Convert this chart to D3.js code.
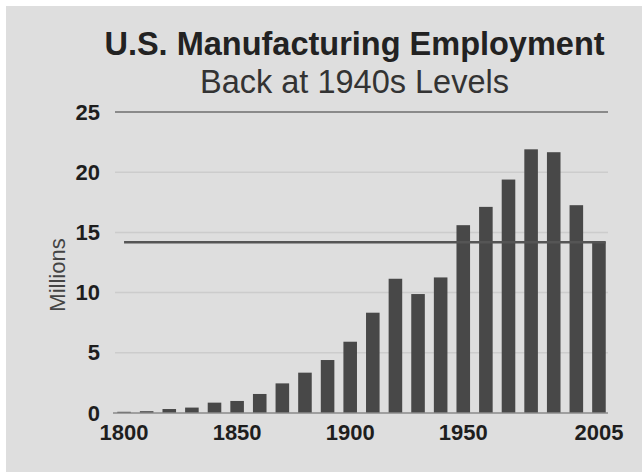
<!DOCTYPE html>
<html>
<head>
<meta charset="utf-8">
<script src="https://cdn.jsdelivr.net/npm/d3@7"></script>
<style>
  html, body { margin: 0; padding: 0; background: #ffffff; }
  svg { display: block; }
  text { font-family: "Liberation Sans", Arial, Helvetica, sans-serif; }
</style>
</head>
<body>
<svg id="chart" width="642" height="472"></svg>
<script>
// ---- data ----
const years = ["1800","1810","1820","1830","1840","1850","1860","1870","1880","1890",
               "1900","1910","1920","1930","1940","1950","1960","1970","1980","1990","2000","2005"];
const employment = [0.1, 0.15, 0.33, 0.45, 0.86, 1.0, 1.58, 2.46, 3.35, 4.4,
                    5.92, 8.33, 11.15, 9.88, 11.26, 15.6, 17.12, 19.39, 21.9, 21.66, 17.26, 14.19];
const xTickLabels = ["1800","1850","1900","1950","2005"];
const yTicks = [0, 5, 10, 15, 20, 25];
const referenceValue = 14.19;
const titleText = "U.S. Manufacturing Employment";
const subtitleText = "Back at 1940s Levels";
const yAxisLabel = "Millions";

// ---- layout ----
const svg = d3.select("#chart");
svg.append("rect").attr("x", 6).attr("y", 6).attr("width", 636).attr("height", 466).attr("fill", "#dedede");

const x = d3.scaleBand().domain(years).range([115, 608]).paddingInner(0.4).paddingOuter(0.1);
const y = d3.scaleLinear().domain([0, 25]).range([413, 112]);

// gridlines
svg.append("g").selectAll("line").data(yTicks.filter(d => d > 0)).join("line")
  .attr("x1", 115).attr("x2", 608)
  .attr("y1", d => y(d)).attr("y2", d => y(d))
  .attr("stroke", d => d === 25 ? "#8a8a8a" : "#cccccc")
  .attr("stroke-width", d => d === 25 ? 2 : 1.5);

// bars
svg.append("g").selectAll("rect").data(years).join("rect")
  .attr("x", (d) => x(d))
  .attr("width", x.bandwidth())
  .attr("y", (d, i) => y(employment[i]))
  .attr("height", (d, i) => y(0) - y(employment[i]))
  .attr("fill", "#484848");

// baseline
svg.append("line").attr("x1", 113).attr("x2", 608).attr("y1", y(0)).attr("y2", y(0))
  .attr("stroke", "#8a8a8a").attr("stroke-width", 1.5);

// reference line at current level
svg.append("line")
  .attr("x1", x(years[0]) + x.bandwidth() / 2)
  .attr("x2", x(years[years.length - 1]) + x.bandwidth())
  .attr("y1", y(referenceValue)).attr("y2", y(referenceValue))
  .attr("stroke", "#555555").attr("stroke-width", 2.5);

// y axis labels
const yAxis = d3.axisLeft(y).tickValues(yTicks).tickSize(0).tickPadding(0);
const gy = svg.append("g").attr("transform", "translate(100,0)").call(yAxis);
gy.select(".domain").remove();
gy.selectAll("text").attr("font-size", 22).attr("font-weight", "bold")
  .attr("fill", "#1e1e1e").attr("font-family", "Liberation Sans, Arial, sans-serif");

// x axis labels
const xAxis = d3.axisBottom(x).tickValues(xTickLabels).tickSize(0).tickPadding(0);
const gx = svg.append("g").attr("transform", "translate(0,424)").call(xAxis);
gx.select(".domain").remove();
gx.selectAll("text").attr("font-size", 22).attr("font-weight", "bold")
  .attr("fill", "#1e1e1e").attr("font-family", "Liberation Sans, Arial, sans-serif");

// titles
svg.append("text").attr("x", 354.5).attr("y", 55).attr("text-anchor", "middle")
  .attr("font-size", 32.5).attr("font-weight", "bold").attr("fill", "#222").text(titleText);
svg.append("text").attr("x", 354.5).attr("y", 93).attr("text-anchor", "middle")
  .attr("font-size", 32.5).attr("fill", "#333").text(subtitleText);

// y axis title
svg.append("text").attr("transform", "translate(65,275) rotate(-90)")
  .attr("text-anchor", "middle").attr("font-size", 22).attr("fill", "#444").text(yAxisLabel);
</script>
</body>
</html>
